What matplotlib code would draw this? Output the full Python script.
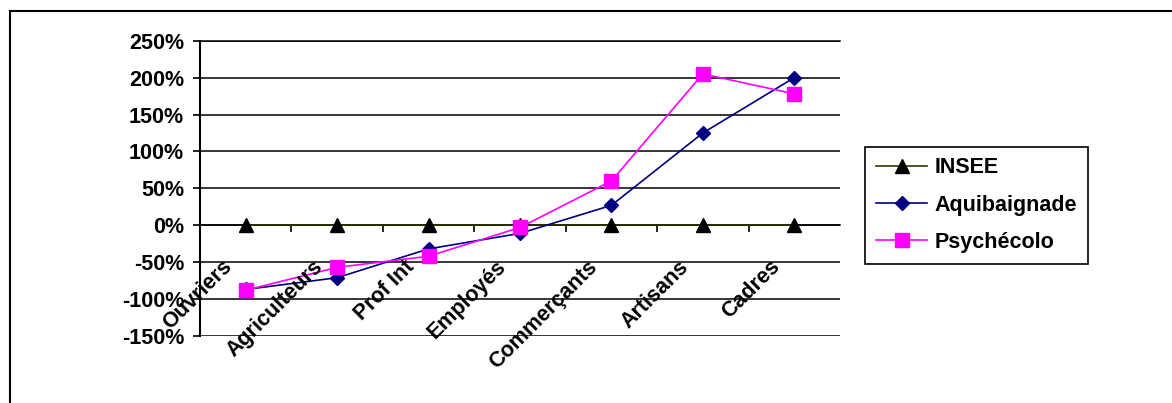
import matplotlib
matplotlib.use("Agg")
import matplotlib.pyplot as plt
from matplotlib.lines import Line2D
from matplotlib.ticker import FuncFormatter

categories = ["Ouvriers", "Agriculteurs", "Prof Int", "Employés", "Commerçants", "Artisans", "Cadres"]
insee = [0, 0, 0, 0, 0, 0, 0]
aquibaignade = [-87, -71, -32, -11, 27, 125, 200]
psychecolo = [-88, -57, -42, -3, 60, 205, 178]

plt.rcParams["font.family"] = ["Liberation Sans", "DejaVu Sans"]
plt.rcParams["font.weight"] = "bold"

fig = plt.figure(figsize=(11.72, 4.03), dpi=100)
ax = fig.add_axes([200 / 1172, 67 / 403, 640 / 1172, 295.3 / 403])

x = list(range(len(categories)))
ax.plot(x, insee, color="#333300", lw=1.2, marker="^", ms=10, mfc="black", mec="black",
        label="INSEE", zorder=5, clip_on=False)
ax.plot(x, aquibaignade, color="#000080", lw=1.2, marker="D", ms=7, mfc="#000080", mec="#000080",
        label="Aquibaignade", zorder=6, clip_on=False)
ax.plot(x, psychecolo, color="#ff00ff", lw=1.2, marker="s", ms=10, mfc="#ff00ff", mec="#ff00ff",
        label="Psychécolo", zorder=7, clip_on=False)

ax.set_xlim(-0.5, len(categories) - 0.5)
ax.set_ylim(-150, 250)
ax.set_yticks(range(-150, 251, 50))
ax.yaxis.set_major_formatter(FuncFormatter(lambda v, _: f"{v:.0f}%"))
ax.tick_params(axis="y", labelsize=15.5, length=5, width=1.2, direction="out", pad=6.5)
ax.grid(axis="y", color="black", lw=1.1, zorder=1)

# category axis crosses at 0
ax.spines["bottom"].set_position(("data", 0))
ax.spines["bottom"].set_linewidth(1.1)
ax.spines["left"].set_linewidth(1.5)
ax.spines["right"].set_visible(False)
ax.spines["top"].set_visible(True)
ax.spines["top"].set_linewidth(1.1)
ax.set_xticks([i + 0.5 for i in range(len(categories) - 1)])
ax.set_xticklabels([])
ax.tick_params(axis="x", length=5, width=1.2, direction="out")
for i, lab in enumerate(categories):
    ax.text(i - 0.27, -42, lab, rotation=45, rotation_mode="anchor", ha="right", va="top",
            fontsize=15.5, fontweight="bold", zorder=8)

leg = fig.legend(loc="upper left", bbox_to_anchor=(865 / 1172, 1 - 146.7 / 403), fontsize=15.5,
                 frameon=True, fancybox=False, edgecolor="black", framealpha=1,
                 handlelength=2.4, handletextpad=0.35, labelspacing=0.75, borderpad=0.5,
                 borderaxespad=0)
leg.get_frame().set_linewidth(1.2)

# outer chart border (top and left edges visible)
fig.add_artist(Line2D([10 / 1172, 1], [1 - 11 / 403, 1 - 11 / 403], transform=fig.transFigure,
                      color="black", lw=1.5))
fig.add_artist(Line2D([10 / 1172, 10 / 1172], [0, 1 - 11 / 403], transform=fig.transFigure,
                      color="black", lw=1.5))

fig.savefig("out.png", dpi=100)
